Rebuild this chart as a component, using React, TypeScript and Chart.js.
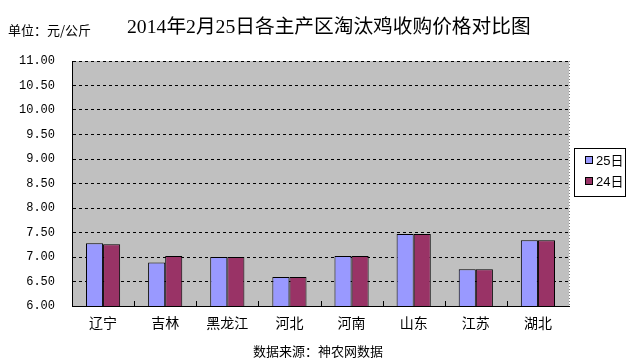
import React, { useEffect, useRef } from "react";
import { Chart, registerables } from "chart.js";

Chart.register(...registerables);

const categories = ["辽宁", "吉林", "黑龙江", "河北", "河南", "山东", "江苏", "湖北"];
const series25 = [7.28, 6.89, 7.0, 6.59, 7.02, 7.47, 6.75, 7.34];
const series24 = [7.26, 7.02, 7.0, 6.59, 7.02, 7.47, 6.75, 7.34];
const seriesNames = ["25日", "24日"];
const seriesColors = ["#9999FF", "#993366"];
const yMin = 6;
const yMax = 11;
const yStep = 0.5;
const titleText = "2014年2月25日各主产区淘汰鸡收购价格对比图";
const unitText = "单位：元/公斤";
const sourceText = "数据来源：神农网数据";

const CJK = '"Noto Sans CJK SC"';

const decorPlugin = {
  id: "decor",
  beforeDraw(chart: any) {
    const { ctx, chartArea } = chart;
    ctx.save();
    ctx.fillStyle = "#ffffff";
    ctx.fillRect(0, 0, chart.width, chart.height);
    ctx.fillStyle = "#C0C0C0";
    ctx.fillRect(chartArea.left, chartArea.top, chartArea.right - chartArea.left, chartArea.bottom - chartArea.top);
    ctx.restore();
  },
  afterDraw(chart: any) {
    const { ctx, chartArea } = chart;
    const xs = chart.scales.x;
    ctx.save();
    // dotted right border
    ctx.strokeStyle = "#808080";
    ctx.lineWidth = 1;
    ctx.setLineDash([1, 2]);
    ctx.beginPath();
    ctx.moveTo(Math.round(chartArea.right) + 0.5, chartArea.top);
    ctx.lineTo(Math.round(chartArea.right) + 0.5, chartArea.bottom);
    ctx.stroke();
    ctx.setLineDash([]);
    // category separator ticks (inside, upward)
    ctx.strokeStyle = "#000";
    for (let i = 1; i < categories.length; i++) {
      const x = Math.round((xs.getPixelForValue(i - 1) + xs.getPixelForValue(i)) / 2) + 0.5;
      ctx.beginPath();
      ctx.moveTo(x, chartArea.bottom);
      ctx.lineTo(x, chartArea.bottom - 5);
      ctx.stroke();
    }
    // texts
    ctx.fillStyle = "#000";
    ctx.textBaseline = "middle";
    ctx.textAlign = "left";
    ctx.font = `13px ${CJK}`;
    ctx.fillText(unitText, 8, 30);
    ctx.font = `19.7px "Liberation Serif", ${CJK}`;
    ctx.fillText(titleText, 127, 28);
    ctx.textAlign = "center";
    ctx.font = `13px ${CJK}`;
    ctx.fillText(sourceText, 318, 351);
    // legend
    const lx = 574.5, ly = 148.5, lw = 51, lh = 48;
    ctx.fillStyle = "#fff";
    ctx.fillRect(lx, ly, lw, lh);
    ctx.strokeStyle = "#000";
    ctx.strokeRect(lx, ly, lw, lh);
    ctx.textAlign = "left";
    ctx.font = `13px "Liberation Sans", ${CJK}`;
    seriesNames.forEach((name, i) => {
      const cy = 160 + i * 21;
      ctx.fillStyle = seriesColors[i];
      ctx.fillRect(585.5, cy - 3.5, 7, 7);
      ctx.strokeStyle = "#000";
      ctx.strokeRect(585.5, cy - 3.5, 7, 7);
      ctx.fillStyle = "#000";
      ctx.fillText(name, 596, cy + 1);
    });
    ctx.restore();
  },
};

export default function App() {
  const ref = useRef<HTMLCanvasElement>(null);
  useEffect(() => {
    if (!ref.current) return;
    const chart = new Chart(ref.current, {
      type: "bar",
      data: {
        labels: categories,
        datasets: [
          {
            label: seriesNames[0],
            data: series25,
            backgroundColor: seriesColors[0],
            borderColor: "#000",
            borderWidth: 1,
            categoryPercentage: 0.55,
            barPercentage: 1,
          },
          {
            label: seriesNames[1],
            data: series24,
            backgroundColor: seriesColors[1],
            borderColor: "#000",
            borderWidth: 1,
            categoryPercentage: 0.55,
            barPercentage: 1,
          },
        ],
      },
      options: {
        responsive: false,
        animation: false,
        layout: { padding: { top: 61, right: 60, left: 0, bottom: 0 } },
        plugins: { legend: { display: false }, tooltip: { enabled: false }, title: { display: false } },
        scales: {
          x: {
            grid: { display: true, drawOnChartArea: false, drawTicks: false },
            border: { display: true, color: "#000", width: 1 },
            ticks: { color: "#000", font: { family: CJK, size: 14 }, padding: 8, maxRotation: 0 },
            afterFit: (s: any) => {
              s.height = 57;
            },
          },
          y: {
            min: yMin,
            max: yMax,
            grid: { color: "#000", drawTicks: false, lineWidth: 1 },
            border: { display: true, color: "#000", width: 1, dash: [3, 3] },
            ticks: {
              stepSize: yStep,
              color: "#000",
              font: { family: '"Liberation Mono"', size: 12 },
              padding: 17,
              callback: (v: any) => Number(v).toFixed(2),
            },
            afterFit: (s: any) => {
              s.width = 72;
            },
          },
        },
      },
      plugins: [decorPlugin],
    });
    return () => chart.destroy();
  }, []);
  return (
    <canvas
      ref={ref}
      width={629}
      height={363}
      style={{ position: "absolute", left: 0, top: 0, display: "block" }}
    />
  );
}
